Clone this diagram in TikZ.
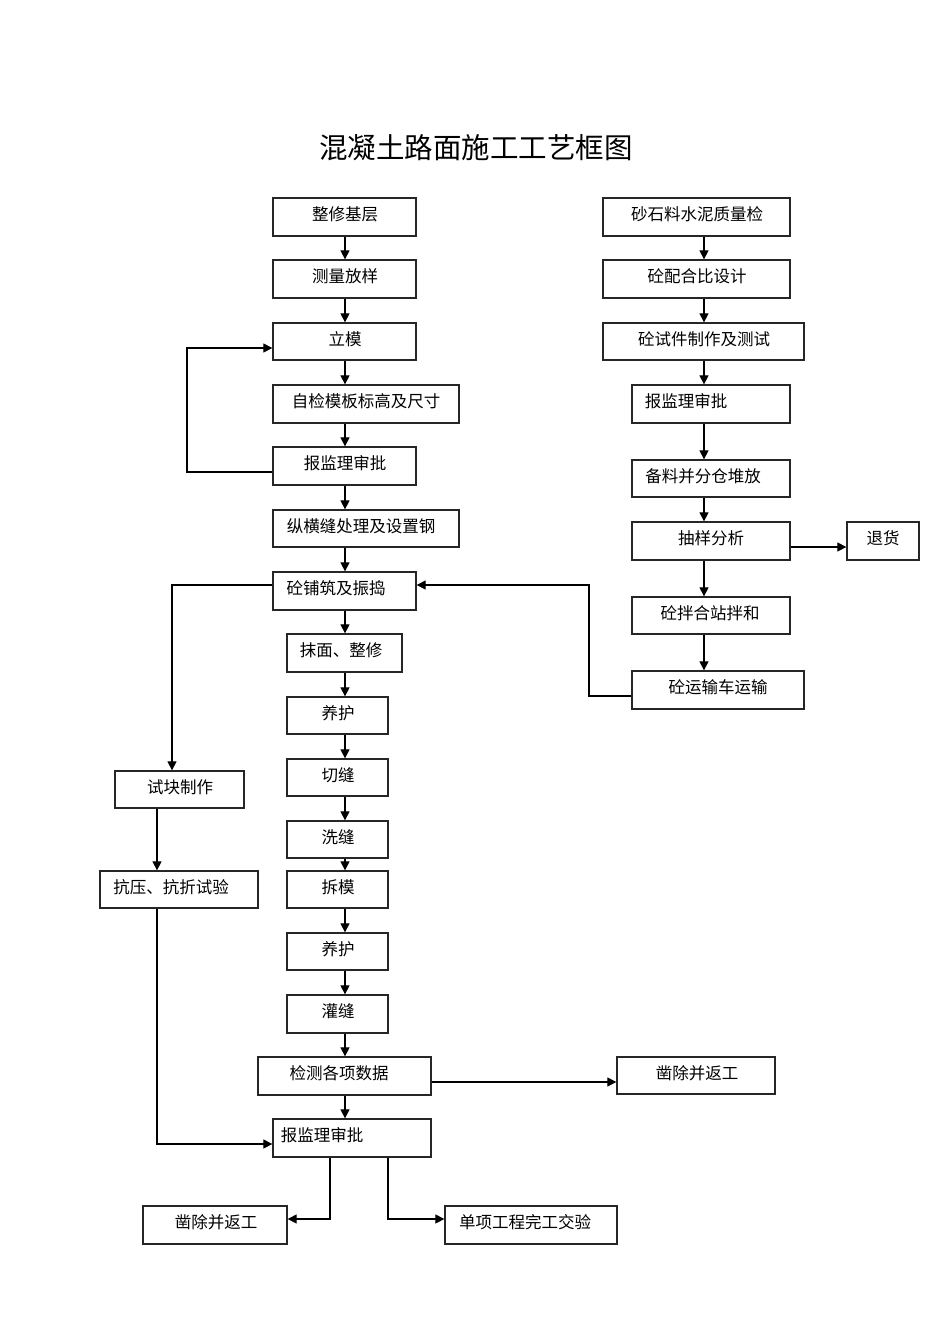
\documentclass[tikz,border=0pt]{standalone}
\usepackage{fontspec}
\setmainfont{Noto Sans CJK SC}
\usetikzlibrary{arrows.meta}
\tikzset{
  box/.style={draw=black!85, line width=1.3pt, inner sep=0pt, rectangle},
  lbl/.style={inner sep=0pt, font=\fontsize{16.5}{17}\selectfont},
  arr/.style={line width=1.2pt, -{Triangle[length=9pt,width=9pt]}},
  ln/.style={line width=1.2pt}
}
% name, x1, y1, x2, y2, text, text-x
\newcommand\mybx[7]{%
  \node[box, minimum width={(#4-#2)*1pt}, minimum height={(#5-#3)*1pt}] (#1) at ({(#2+#4)/2},{(#3+#5)/2}) {};
  \node[lbl] (#1t) at (#7,{#3+16}) {#6};
}
\begin{document}
\begin{tikzpicture}[x=1pt,y=-1pt]
\useasboundingbox (0,0) rectangle (950,1344);
\node[inner sep=0pt, font=\fontsize{28.5}{29}\selectfont] (title) at (476,148) {混凝土路面施工工艺框图};
\coordinate (colL) at (345,0);
\coordinate (colR) at (704,0);
% left column
\mybx{a1}{273}{198}{416}{236}{整修基层}{345}
\mybx{a2}{273}{260}{416}{298}{测量放样}{345}
\mybx{a3}{273}{323}{416}{360}{立模}{345}
\mybx{a4}{273}{385}{459}{423}{自检模板标高及尺寸}{366}
\mybx{a5}{273}{447}{416}{485}{报监理审批}{345}
\mybx{a6}{273}{510}{459}{547}{纵横缝处理及设置钢}{361}
\mybx{a7}{273}{572}{416}{610}{砼铺筑及振捣}{336}
\mybx{a8}{287}{634}{402}{672}{抹面、整修}{341}
\mybx{a9}{287}{697}{388}{734}{养护}{338}
\mybx{a10}{287}{759}{388}{796}{切缝}{338}
\mybx{a11}{287}{821}{388}{858}{洗缝}{338}
\mybx{a12}{287}{871}{388}{908}{拆模}{338}
\mybx{a13}{287}{933}{388}{970}{养护}{338}
\mybx{a14}{287}{995}{388}{1033}{灌缝}{338}
\mybx{a15}{258}{1057}{431}{1095}{检测各项数据}{339}
\mybx{a16}{273}{1119}{431}{1157}{报监理审批}{322}
\mybx{r1}{617}{1057}{775}{1094}{凿除并返工}{697}
\mybx{b1}{143}{1206}{287}{1244}{凿除并返工}{216}
\mybx{b2}{445}{1206}{617}{1244}{单项工程完工交验}{525}
\mybx{s1}{115}{771}{244}{808}{试块制作}{180}
\mybx{s2}{100}{871}{258}{908}{抗压、抗折试验}{171}
% right column
\mybx{c1}{603}{198}{790}{236}{砂石料水泥质量检}{697}
\mybx{c2}{603}{260}{790}{298}{砼配合比设计}{697}
\mybx{c3}{603}{323}{804}{360}{砼试件制作及测试}{704}
\mybx{c4}{632}{385}{790}{423}{报监理审批}{686}
\mybx{c5}{632}{460}{790}{497}{备料并分仓堆放}{703}
\mybx{c6}{632}{522}{790}{560}{抽样分析}{711}
\mybx{c7}{847}{522}{919}{560}{退货}{883}
\mybx{c8}{632}{597}{790}{634}{砼拌合站拌和}{710}
\mybx{c9}{632}{671}{804}{709}{砼运输车运输}{718}
% left column arrows
\foreach \p/\q in {a1/a2,a2/a3,a3/a4,a4/a5,a5/a6,a6/a7,a7/a8,a8/a9,a9/a10,a10/a11,a11/a12,a12/a13,a13/a14,a14/a15,a15/a16}
  \draw[arr] (\p.south -| colL) -- (\q.north -| colL);
% right column arrows
\foreach \p/\q in {c1/c2,c2/c3,c3/c4,c4/c5,c5/c6,c6/c8,c8/c9}
  \draw[arr] (\p.south -| colR) -- (\q.north -| colR);
% loop back to 立模
\draw[arr] (a5.west |- 0,472) -- (187,472) -- (187,348) -- (a3.west |- 0,348);
% 砼铺筑 -> 试块制作
\draw[arr] (a7.west |- 0,585) -- (172,585) -- (s1.north -| 172,0);
% 试块 -> 抗压
\draw[arr] (s1.south -| 157,0) -- (s2.north -| 157,0);
% 抗压 -> 报监理审批 bottom
\draw[arr] (s2.south -| 157,0) -- (157,1144) -- (a16.west |- 0,1144);
% 运输 -> 砼铺筑
\draw[arr] (c9.west |- 0,696) -- (589,696) -- (589,585) -- (a7.east |- 0,585);
% 抽样 -> 退货
\draw[arr] (c6.east |- 0,547) -- (c7.west |- 0,547);
% 检测 -> 凿除
\draw[arr] (a15.east |- 0,1082) -- (r1.west |- 0,1082);
% 报监理 -> 凿除 / 单项
\draw[arr] (a16.south -| 330,0) -- (330,1219) -- (b1.east |- 0,1219);
\draw[arr] (a16.south -| 388,0) -- (388,1219) -- (b2.west |- 0,1219);
\end{tikzpicture}
\end{document}
